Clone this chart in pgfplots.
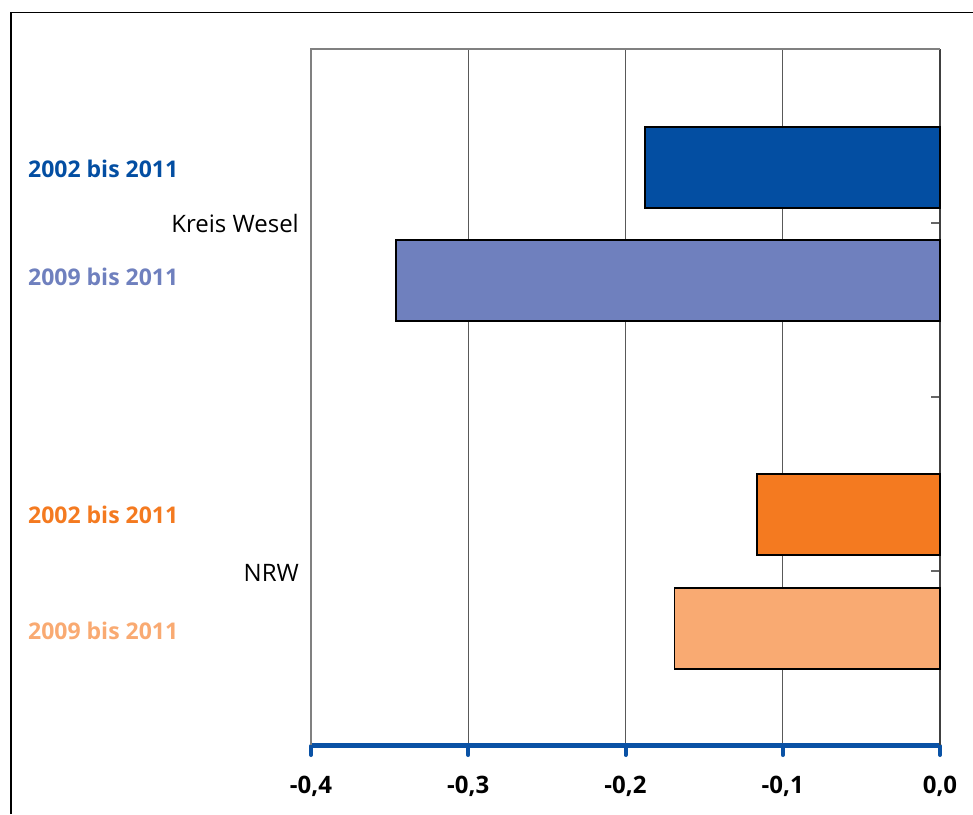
\documentclass[border=0pt]{standalone}
\usepackage{pgfplots}
\pgfplotsset{compat=1.18}
\usepackage{fontspec}
\setmainfont{Open Sans}

\definecolor{wdark}{HTML}{034EA2}
\definecolor{wlight}{HTML}{6F80BE}
\definecolor{ndark}{HTML}{F47A20}
\definecolor{nlight}{HTML}{F9AA72}
\definecolor{axblue}{HTML}{0A52A5}

\begin{document}
\begin{tikzpicture}
\useasboundingbox (0pt,0pt) rectangle (973pt,-814pt);
% outer frame (only top and left visible)
\draw[line width=1.3pt] (11pt,-814pt) -- (11pt,-12.5pt) -- (973pt,-12.5pt);

\begin{axis}[
  at={(311pt,-745pt)}, anchor=south west,
  scale only axis,
  width=629pt, height=696pt,
  xmin=-0.4, xmax=0, ymin=0, ymax=4,
  axis x line*=bottom, axis y line*=right,
  x axis line style={draw=axblue, line width=5pt},
  y axis line style={draw=black!75, line width=1.8pt},
  xtick={-0.4,-0.3,-0.2,-0.1,0},
  xticklabels={{-0,4},{-0,3},{-0,2},{-0,1},{0,0}},
  ytick={0,1,2,3,4}, yticklabels={},
  tick align=inside,
  major tick length=9pt,
  xtick style={draw=axblue, line width=4pt, line cap=round, yshift=-10pt},
  ytick style={draw=black!60, line width=1.2pt},
  xticklabel style={font=\fontsize{24}{28}\selectfont\bfseries, anchor=base, yshift=-48pt},
  xmajorgrids,
  major grid style={draw=black!65, line width=0.8pt},
  clip=false,
]
\draw[black!50, line width=1.8pt] (axis cs:-0.4,0) -- (axis cs:-0.4,4) -- (axis cs:0,4);
% Kreis Wesel 2002 bis 2011
\addplot[xbar, bar shift=0pt, bar width=0.466, fill=wdark, draw=black, line width=1.6pt]
  coordinates {(-0.1875,3.319)};
% Kreis Wesel 2009 bis 2011
\addplot[xbar, bar shift=0pt, bar width=0.466, fill=wlight, draw=black, line width=1.6pt]
  coordinates {(-0.3458,2.670)};
% NRW 2002 bis 2011
\addplot[xbar, bar shift=0pt, bar width=0.466, fill=ndark, draw=black, line width=1.6pt]
  coordinates {(-0.1165,1.325)};
% NRW 2009 bis 2011
\addplot[xbar, bar shift=0pt, bar width=0.466, fill=nlight, draw=black, line width=1.6pt]
  coordinates {(-0.1689,0.671)};
\end{axis}

\begin{scope}[every node/.style={inner sep=0pt}]
\node[anchor=base west, text=wdark, font=\fontsize{23}{28}\selectfont\bfseries] at (28pt,-177pt) {2002 bis 2011};
\node[anchor=base east, font=\fontsize{24}{28}\selectfont] at (299pt,-232pt) {Kreis Wesel};
\node[anchor=base west, text=wlight, font=\fontsize{23}{28}\selectfont\bfseries] at (28pt,-285.5pt) {2009 bis 2011};
\node[anchor=base west, text=ndark, font=\fontsize{23}{28}\selectfont\bfseries] at (28pt,-523pt) {2002 bis 2011};
\node[anchor=base east, font=\fontsize{24}{28}\selectfont] at (299pt,-581.5pt) {NRW};
\node[anchor=base west, text=nlight, font=\fontsize{23}{28}\selectfont\bfseries] at (28pt,-639pt) {2009 bis 2011};
\end{scope}
\end{tikzpicture}
\end{document}
